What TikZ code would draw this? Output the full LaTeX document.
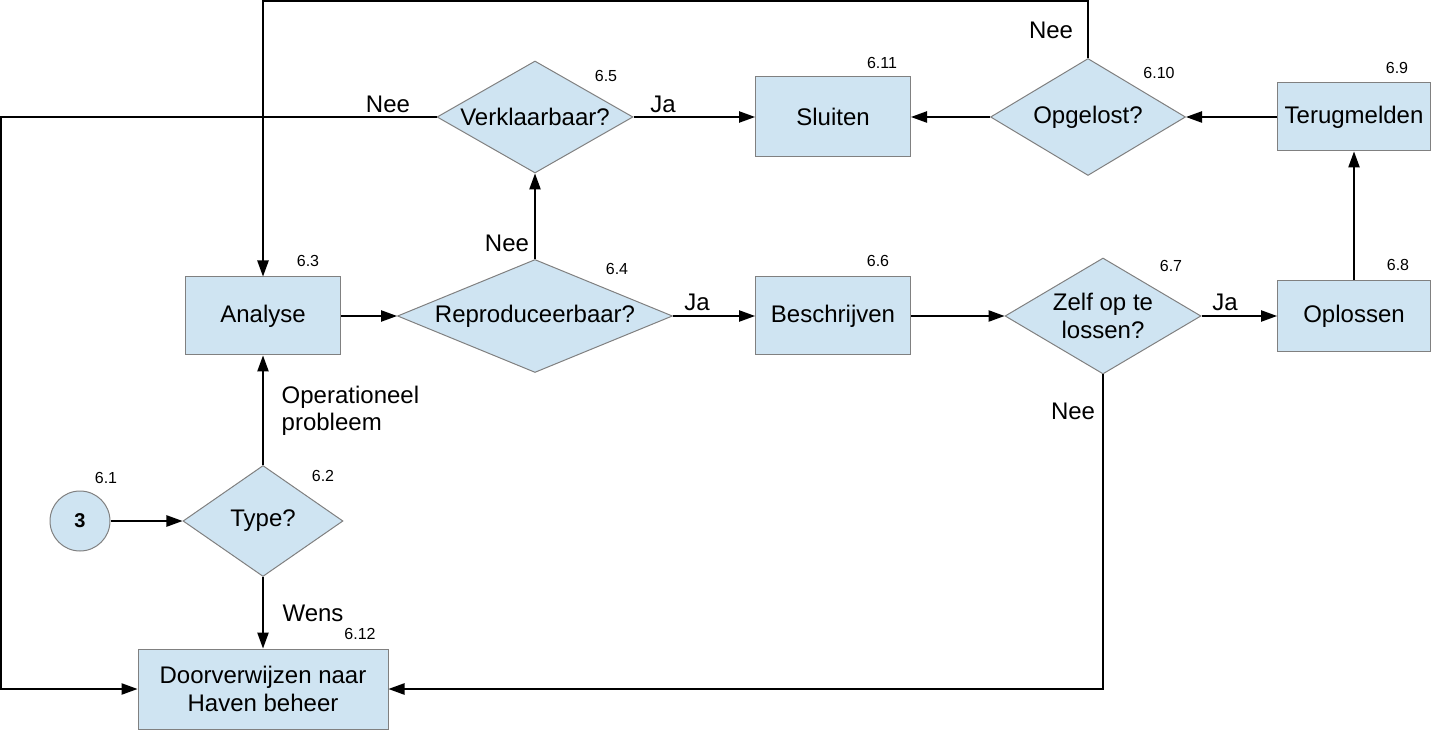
\documentclass[tikz,border=0pt]{standalone}
\usepackage{fontspec}
\setmainfont{Liberation Sans}
\usetikzlibrary{shapes.geometric,arrows.meta}
\newlength\pxu \setlength\pxu{0.75pt}
\definecolor{boxfill}{RGB}{207,228,242}
\definecolor{boxline}{RGB}{128,128,128}
\tikzset{
 base/.style={draw=boxline, fill=boxfill, line width=0.75pt, font=\fontsize{18}{20.5}\selectfont, inner sep=0pt, align=center},
 procbox/.style={base, rectangle},
 decision/.style={base, diamond, aspect=2},
 startc/.style={base, circle, minimum size=60\pxu, font=\fontsize{15}{18}\selectfont\bfseries},
 conn/.style={line width=1pt, -{Triangle[length=12pt,width=8.5pt]}},
 num/.style={font=\fontsize{12}{14}\selectfont},
 lbl/.style={font=\fontsize{18}{20.5}\selectfont},
}
\begin{document}
\begin{tikzpicture}[x=0.75pt,y=-0.75pt]
\useasboundingbox (0,0) rectangle (1433,730);
% nodes
\node[startc] (n1) at (80,521) {3};
\node[decision, minimum width=160\pxu, minimum height=111\pxu] (n2) at (263,521) {Type?};
\node[procbox, minimum width=155\pxu, minimum height=78\pxu] (n3) at (263,316) {Analyse};
\node[decision, aspect=3, minimum width=275\pxu, minimum height=113\pxu] (n4) at (535,316) {Reproduceerbaar?};
\node[decision, minimum width=196\pxu, minimum height=112\pxu] (n5) at (535,117) {Verklaarbaar?};
\node[procbox, minimum width=155\pxu, minimum height=78\pxu] (n6) at (833,316) {Beschrijven};
\node[decision, minimum width=196\pxu, minimum height=116\pxu] (n7) at (1103,316) {Zelf op te\\lossen?};
\node[procbox, minimum width=153\pxu, minimum height=71\pxu] (n8) at (1354,316) {Oplossen};
\node[procbox, minimum width=153\pxu, minimum height=68\pxu] (n9) at (1354,117) {Terugmelden};
\node[decision, minimum width=195\pxu, minimum height=117\pxu] (n10) at (1088,117) {Opgelost?};
\node[procbox, minimum width=155\pxu, minimum height=80\pxu] (n11) at (833,117) {Sluiten};
\node[procbox, minimum width=250\pxu, minimum height=80\pxu] (n12) at (263,689) {Doorverwijzen naar\\Haven beheer};
% number labels
\node[num] (k1) at (106,478) {6.1};
\node[num] (k2) at (323,476) {6.2};
\node[num] (k3) at (308,261) {6.3};
\node[num] (k4) at (617,269) {6.4};
\node[num] (k5) at (606,76) {6.5};
\node[num] (k6) at (878,261) {6.6};
\node[num] (k7) at (1171,266) {6.7};
\node[num] (k8) at (1398,265) {6.8};
\node[num] (k9) at (1397,68) {6.9};
\node[num] (k10) at (1159,73) {6.10};
\node[num] (k11) at (882,63) {6.11};
\node[num] (k12) at (360,634) {6.12};
% connectors
\coordinate (cl) at (1,117);
\coordinate (ct) at (1088,1);
\draw[conn] (n1) -- (n2);
\draw[conn] (n2.north) -- (n3.south);
\draw[conn] (n2.south) -- (n12.north);
\draw[conn] (n3) -- (n4);
\draw[conn] (n4) -- (n6);
\draw[conn] (n4.north) -- (n5.south);
\draw[conn] (n5) -- (n11);
\draw[conn] (n5.west) -- (cl) |- (n12.west);
\draw[conn] (n6) -- (n7);
\draw[conn] (n7) -- (n8);
\draw[conn] (n7.south) |- (n12.east);
\draw[conn] (n8) -- (n9);
\draw[conn] (n9) -- (n10);
\draw[conn] (n10) -- (n11);
\draw[conn] (n10.north) -- (ct) -| (n3.north);
% edge labels
\node[lbl] (e1) at (388,104) {Nee};
\node[lbl] (e2) at (663,104) {Ja};
\node[lbl] (e3) at (1051,30) {Nee};
\node[lbl] (e4) at (507,243) {Nee};
\node[lbl] (e5) at (697,302) {Ja};
\node[lbl] (e6) at (1225,302) {Ja};
\node[lbl] (e7) at (1073,411) {Nee};
\node[lbl] (e8) at (313,613) {Wens};
\node[lbl, anchor=west, align=left] (e9) at (277,411) {Operationeel\\probleem};
\end{tikzpicture}
\end{document}
